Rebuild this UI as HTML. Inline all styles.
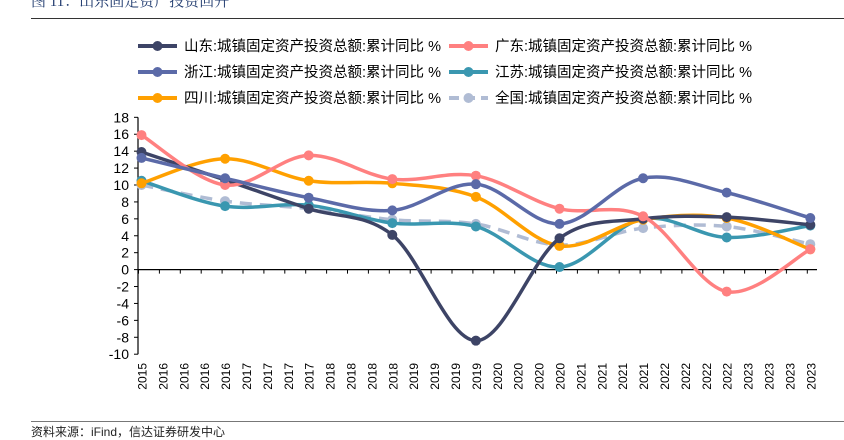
<!DOCTYPE html>
<html><head><meta charset="utf-8"><style>
html,body{margin:0;padding:0;background:#fff;}
body{width:844px;height:438px;overflow:hidden;position:relative;font-family:"Liberation Sans","Noto Sans CJK SC",sans-serif;}
.title{position:absolute;left:31px;top:-10px;font-size:15px;color:#1f3a6e;font-family:"Liberation Serif","Noto Serif CJK SC",serif;white-space:nowrap}
.src{position:absolute;left:31px;top:423px;font-size:12px;color:#222;white-space:nowrap}
</style></head><body>
<div class="title">图 11：山东固定资产投资回升</div>
<div style="position:absolute;left:31px;top:18px;width:813px;height:1px;background:#333"></div>
<div style="position:absolute;left:31px;top:421px;width:813px;height:1px;background:#777"></div>
<div class="src">资料来源：iFind，信达证券研发中心</div>
<svg id="chart" width="844" height="438" style="position:absolute;left:0;top:0"></svg>
<script>
const categories=["2015","2016","2016","2016","2016","2017","2017","2017","2017","2018","2018","2018","2018","2019","2019","2019","2019","2020","2020","2020","2020","2021","2021","2021","2021","2022","2022","2022","2022","2023","2023","2023","2023"];
const pointIdx=[0,4,8,12,16,20,24,28,32];
const yTicks=[18,16,14,12,10,8,6,4,2,0,-2,-4,-6,-8,-10];
const shandong=[13.9,10.6,7.2,4.1,-8.4,3.7,6.0,6.2,5.3];
const guangdong=[15.9,10.0,13.5,10.7,11.1,7.2,6.3,-2.6,2.4];
const zhejiang=[13.2,10.8,8.5,7.0,10.1,5.4,10.8,9.1,6.1];
const jiangsu=[10.5,7.5,7.6,5.5,5.1,0.3,6.0,3.8,5.2];
const sichuan=[10.2,13.1,10.5,10.2,8.6,2.8,5.9,6.1,2.4];
const national=[10.0,8.1,7.2,5.9,5.4,2.9,4.9,5.1,3.0];
const names=["山东:城镇固定资产投资总额:累计同比 %","广东:城镇固定资产投资总额:累计同比 %","浙江:城镇固定资产投资总额:累计同比 %","江苏:城镇固定资产投资总额:累计同比 %","四川:城镇固定资产投资总额:累计同比 %","全国:城镇固定资产投资总额:累计同比 %"];

const svg=document.getElementById('chart');
const NS='http://www.w3.org/2000/svg';
const x0=141.5,dx=20.9,y0=269.6,ky=8.46;
const X=i=>x0+i*dx, Y=v=>y0-v*ky;
function mk(t,a,p){const e=document.createElementNS(NS,t);for(const k in a)e.setAttribute(k,a[k]);(p||svg).appendChild(e);return e;}
const ya=mk('line',{x1:138,y1:Y(18),x2:138,y2:Y(-10),stroke:'#000','stroke-width':1.2});


yTicks.forEach(v=>{
  mk('line',{x1:134,y1:Y(v),x2:138,y2:Y(v),stroke:'#000'});
  const t=mk('text',{x:129,y:Y(v)+5,'text-anchor':'end','font-size':14,fill:'#000'});
  t.textContent=v;
  
  
});
const xa=mk('line',{x1:138,y1:y0,x2:817,y2:y0,stroke:'#000','stroke-width':1.2});


categories.forEach((c,i)=>{
  mk('line',{x1:X(i)-3,y1:y0,x2:X(i)-3,y2:y0+4,stroke:'#000'});
  const t=mk('text',{transform:`translate(${X(i)+5},363) rotate(-90)`,'text-anchor':'end','font-size':12,fill:'#000'});
  t.textContent=c;
  
  
});
function smooth(pts){
  let d=`M${pts[0][0]},${pts[0][1]}`;
  for(let i=0;i<pts.length-1;i++){
    const p0=pts[i-1]||pts[i],p1=pts[i],p2=pts[i+1],p3=pts[i+2]||p2;
    const c1=[p1[0]+(p2[0]-p0[0])/6,p1[1]+(p2[1]-p0[1])/6];
    const c2=[p2[0]-(p3[0]-p1[0])/6,p2[1]-(p3[1]-p1[1])/6];
    d+=`C${c1[0]},${c1[1]} ${c2[0]},${c2[1]} ${p2[0]},${p2[1]}`;
  }
  return d;
}
const series=[
 {d:national,c:'#b0bcd4',dash:'12,8',n:'series-national'},
 {d:jiangsu,c:'#3a97b0',n:'series-jiangsu'},
 {d:sichuan,c:'#ffa000',n:'series-sichuan'},
 {d:shandong,c:'#3d4466',n:'series-shandong'},
 {d:guangdong,c:'#ff8080',n:'series-guangdong'},
 {d:zhejiang,c:'#5b6aa8',n:'series-zhejiang'}
];
series.forEach(s=>{
  const g=mk('g',{});
  
  
  const pts=s.d.map((v,k)=>[X(pointIdx[k]),Y(v)]);
  const a={d:smooth(pts),fill:'none',stroke:s.c,'stroke-width':3.5};
  if(s.dash)a['stroke-dasharray']=s.dash;
  mk('path',a,g);
  pts.forEach(p=>{
    const c=mk('circle',{cx:p[0],cy:p[1],r:5,fill:s.c},g);
    
    
  });
});
const legCols=['#3d4466','#ff8080','#5b6aa8','#3a97b0','#ffa000','#b0bcd4'];
names.forEach((n,i)=>{
  const col=i%2,row=Math.floor(i/2);
  const lx=col?449:138, ly=46+row*26;
  const g=mk('g',{});
  
  
  const a={x1:lx,y1:ly,x2:lx+39,y2:ly,stroke:legCols[i],'stroke-width':4};
  if(i==5)a['stroke-dasharray']='10,6';
  mk('line',a,g);
  mk('circle',{cx:lx+19.5,cy:ly,r:5,fill:legCols[i]},g);
  const t=mk('text',{x:lx+46,y:ly+5,'font-size':14.5,fill:'#000'},g);
  t.textContent=n;
});
</script>
</body></html>
